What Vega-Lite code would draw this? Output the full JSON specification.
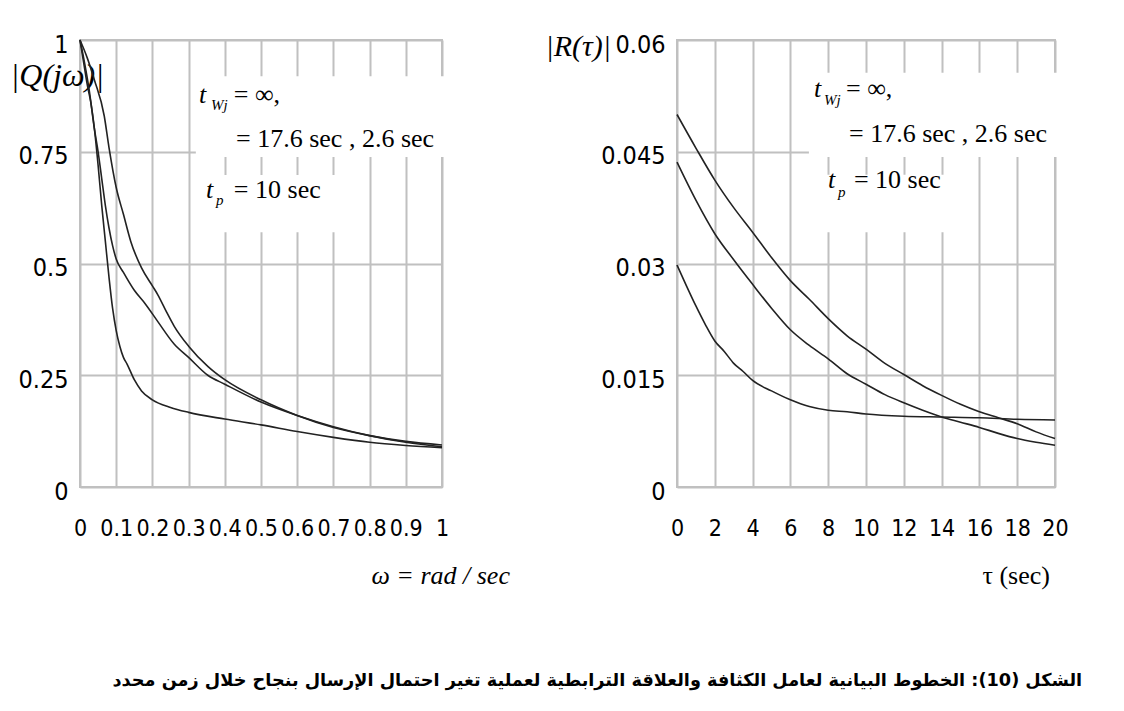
{
  "$schema": "https://vega.github.io/schema/vega-lite/v6.json",
  "background": "white",
  "padding": {"left": 9, "top": 30, "right": 5, "bottom": 5},
  "bounds": "flush",
  "spacing": 235,
  "config": {
    "view": {"stroke": "#c0c0c0", "strokeWidth": 2},
    "axis": {
      "grid": true, "gridColor": "#c0c0c0", "gridWidth": 2, "gridOpacity": 1,
      "domain": false, "ticks": false,
      "labelFont": "DejaVu Sans Condensed", "labelFontSize": 25, "labelColor": "#000",
      "labelOverlap": false, "labelFlush": false, "labelBound": false,
      "titleFont": "Liberation Serif", "titleFontWeight": "normal", "titleColor": "#000"
    },
    "axisX": {"labelFontSize": 23},
    "text": {"font": "Liberation Serif", "color": "#000", "align": "left", "baseline": "alphabetic"}
  },
  "title": {
    "text": "الشكل (10): الخطوط البيانية لعامل الكثافة والعلاقة الترابطية لعملية تغير احتمال الإرسال بنجاح خلال زمن محدد",
    "orient": "bottom", "anchor": "end", "font": "DejaVu Sans", "fontSize": 17.7, "fontWeight": "bold",
    "color": "#000", "offset": 83, "dx": 13
  },
  "datasets": {
    "q": [
      {"x": 0, "y": 1.0, "curve": "A"}, {"x": 0.01, "y": 0.95, "curve": "A"}, {"x": 0.02, "y": 0.9, "curve": "A"},
      {"x": 0.03, "y": 0.86, "curve": "A"}, {"x": 0.04, "y": 0.8, "curve": "A"}, {"x": 0.05, "y": 0.72, "curve": "A"},
      {"x": 0.06, "y": 0.63, "curve": "A"}, {"x": 0.07, "y": 0.55, "curve": "A"}, {"x": 0.08, "y": 0.47, "curve": "A"},
      {"x": 0.09, "y": 0.4, "curve": "A"}, {"x": 0.1, "y": 0.35, "curve": "A"}, {"x": 0.11, "y": 0.315, "curve": "A"},
      {"x": 0.12, "y": 0.29, "curve": "A"}, {"x": 0.13, "y": 0.275, "curve": "A"}, {"x": 0.15, "y": 0.24, "curve": "A"},
      {"x": 0.17, "y": 0.215, "curve": "A"}, {"x": 0.2, "y": 0.195, "curve": "A"}, {"x": 0.25, "y": 0.178, "curve": "A"},
      {"x": 0.3, "y": 0.167, "curve": "A"}, {"x": 0.4, "y": 0.152, "curve": "A"}, {"x": 0.5, "y": 0.139, "curve": "A"},
      {"x": 0.6, "y": 0.124, "curve": "A"}, {"x": 0.7, "y": 0.111, "curve": "A"}, {"x": 0.8, "y": 0.1, "curve": "A"},
      {"x": 0.9, "y": 0.093, "curve": "A"}, {"x": 1.0, "y": 0.088, "curve": "A"},
      {"x": 0, "y": 1.0, "curve": "B"}, {"x": 0.01, "y": 0.96, "curve": "B"}, {"x": 0.025, "y": 0.89, "curve": "B"},
      {"x": 0.04, "y": 0.8, "curve": "B"}, {"x": 0.05, "y": 0.75, "curve": "B"}, {"x": 0.06, "y": 0.69, "curve": "B"},
      {"x": 0.07, "y": 0.63, "curve": "B"}, {"x": 0.08, "y": 0.58, "curve": "B"}, {"x": 0.09, "y": 0.54, "curve": "B"},
      {"x": 0.1, "y": 0.51, "curve": "B"}, {"x": 0.12, "y": 0.48, "curve": "B"}, {"x": 0.15, "y": 0.44, "curve": "B"},
      {"x": 0.18, "y": 0.41, "curve": "B"}, {"x": 0.215, "y": 0.37, "curve": "B"}, {"x": 0.26, "y": 0.32, "curve": "B"},
      {"x": 0.3, "y": 0.29, "curve": "B"}, {"x": 0.353, "y": 0.25, "curve": "B"}, {"x": 0.4, "y": 0.23, "curve": "B"},
      {"x": 0.5, "y": 0.19, "curve": "B"}, {"x": 0.6, "y": 0.16, "curve": "B"}, {"x": 0.7, "y": 0.135, "curve": "B"},
      {"x": 0.8, "y": 0.115, "curve": "B"}, {"x": 0.9, "y": 0.1, "curve": "B"}, {"x": 1.0, "y": 0.09, "curve": "B"},
      {"x": 0, "y": 1.0, "curve": "C"}, {"x": 0.02, "y": 0.96, "curve": "C"}, {"x": 0.04, "y": 0.91, "curve": "C"},
      {"x": 0.067, "y": 0.83, "curve": "C"}, {"x": 0.08, "y": 0.76, "curve": "C"}, {"x": 0.1, "y": 0.67, "curve": "C"},
      {"x": 0.12, "y": 0.61, "curve": "C"}, {"x": 0.14, "y": 0.55, "curve": "C"}, {"x": 0.17, "y": 0.49, "curve": "C"},
      {"x": 0.2, "y": 0.45, "curve": "C"}, {"x": 0.215, "y": 0.43, "curve": "C"}, {"x": 0.24, "y": 0.39, "curve": "C"},
      {"x": 0.26, "y": 0.36, "curve": "C"}, {"x": 0.3, "y": 0.315, "curve": "C"}, {"x": 0.353, "y": 0.27, "curve": "C"},
      {"x": 0.4, "y": 0.24, "curve": "C"}, {"x": 0.5, "y": 0.195, "curve": "C"}, {"x": 0.6, "y": 0.16, "curve": "C"},
      {"x": 0.7, "y": 0.133, "curve": "C"}, {"x": 0.8, "y": 0.115, "curve": "C"}, {"x": 0.9, "y": 0.102, "curve": "C"},
      {"x": 1.0, "y": 0.094, "curve": "C"}
    ],
    "r": [
      {"x": 0, "y": 0.05, "curve": "A"}, {"x": 1, "y": 0.0455, "curve": "A"}, {"x": 2, "y": 0.0412, "curve": "A"},
      {"x": 3, "y": 0.0375, "curve": "A"}, {"x": 4, "y": 0.0342, "curve": "A"}, {"x": 5, "y": 0.0308, "curve": "A"},
      {"x": 6, "y": 0.0277, "curve": "A"}, {"x": 7, "y": 0.0252, "curve": "A"}, {"x": 8, "y": 0.0226, "curve": "A"},
      {"x": 9, "y": 0.0203, "curve": "A"}, {"x": 10, "y": 0.0185, "curve": "A"}, {"x": 11, "y": 0.0166, "curve": "A"},
      {"x": 12, "y": 0.0151, "curve": "A"}, {"x": 13, "y": 0.0136, "curve": "A"}, {"x": 14, "y": 0.0123, "curve": "A"},
      {"x": 15, "y": 0.0111, "curve": "A"}, {"x": 16, "y": 0.0101, "curve": "A"}, {"x": 17, "y": 0.0093, "curve": "A"},
      {"x": 18, "y": 0.0085, "curve": "A"}, {"x": 19, "y": 0.0074, "curve": "A"}, {"x": 20, "y": 0.0065, "curve": "A"},
      {"x": 0, "y": 0.0436, "curve": "B"}, {"x": 1, "y": 0.0385, "curve": "B"}, {"x": 2, "y": 0.034, "curve": "B"},
      {"x": 3, "y": 0.0305, "curve": "B"}, {"x": 4, "y": 0.0272, "curve": "B"}, {"x": 5, "y": 0.024, "curve": "B"},
      {"x": 6, "y": 0.0211, "curve": "B"}, {"x": 7, "y": 0.019, "curve": "B"}, {"x": 8, "y": 0.0172, "curve": "B"},
      {"x": 9, "y": 0.0152, "curve": "B"}, {"x": 10, "y": 0.0138, "curve": "B"}, {"x": 11, "y": 0.0124, "curve": "B"},
      {"x": 12, "y": 0.0113, "curve": "B"}, {"x": 13, "y": 0.0103, "curve": "B"}, {"x": 14, "y": 0.0094, "curve": "B"},
      {"x": 15, "y": 0.0087, "curve": "B"}, {"x": 16, "y": 0.008, "curve": "B"}, {"x": 17, "y": 0.0072, "curve": "B"},
      {"x": 18, "y": 0.0065, "curve": "B"}, {"x": 19, "y": 0.006, "curve": "B"}, {"x": 20, "y": 0.0056, "curve": "B"},
      {"x": 0, "y": 0.0298, "curve": "C"}, {"x": 0.5, "y": 0.027, "curve": "C"}, {"x": 1, "y": 0.0243, "curve": "C"},
      {"x": 1.5, "y": 0.0218, "curve": "C"}, {"x": 2, "y": 0.0196, "curve": "C"}, {"x": 2.5, "y": 0.0182, "curve": "C"},
      {"x": 3, "y": 0.0166, "curve": "C"}, {"x": 3.5, "y": 0.0155, "curve": "C"}, {"x": 4, "y": 0.0143, "curve": "C"},
      {"x": 5, "y": 0.0129, "curve": "C"}, {"x": 6, "y": 0.0117, "curve": "C"}, {"x": 7, "y": 0.0108, "curve": "C"},
      {"x": 8, "y": 0.0103, "curve": "C"}, {"x": 9, "y": 0.0101, "curve": "C"}, {"x": 10, "y": 0.0098, "curve": "C"},
      {"x": 12, "y": 0.0095, "curve": "C"}, {"x": 14, "y": 0.0094, "curve": "C"}, {"x": 16, "y": 0.0093, "curve": "C"},
      {"x": 18, "y": 0.0091, "curve": "C"}, {"x": 20, "y": 0.009, "curve": "C"}
    ]
  },
  "hconcat": [
    {
      "width": 362, "height": 447,
      "encoding": {
        "x": {"field": "x", "type": "quantitative", "scale": {"domain": [0, 1], "nice": false},
          "axis": {"values": [0, 0.1, 0.2, 0.3, 0.4, 0.5, 0.6, 0.7, 0.8, 0.9, 1], "labelExpr": "'' + datum.value", "labelPadding": 30,
            "title": "ω = rad / sec", "titleX": 291, "titleY": 96, "titleAlign": "left", "titleBaseline": "alphabetic",
            "titleFontSize": 26, "titleFontStyle": "italic"}},
        "y": {"field": "y", "type": "quantitative", "scale": {"domain": [0, 1], "nice": false},
          "axis": {"values": [0, 0.25, 0.5, 0.75, 1], "labelExpr": "'' + datum.value", "labelPadding": 12, "labelOffset": 4,
            "title": "|Q(jω)|", "titleAngle": 0, "titleX": -70, "titleY": 45, "titleAlign": "left", "titleBaseline": "alphabetic",
            "titleFontSize": 32, "titleFontStyle": "italic"}}
      },
      "layer": [
        {
          "data": {"name": "q"},
          "mark": {"type": "line", "color": "#222", "strokeWidth": 1.6, "interpolate": "monotone"},
          "encoding": {"detail": {"field": "curve"}}
        },
        {
          "data": {"values": [
            {"x": 0.32, "x2": 1.012, "y": 0.919, "y2": 0.738},
            {"x": 0.32, "x2": 0.743, "y": 0.698, "y2": 0.57}
          ]},
          "mark": {"type": "rect", "color": "white"},
          "encoding": {"x2": {"field": "x2"}, "y2": {"field": "y2"}}
        },
        {
          "data": {"values": [
            {"x": 0.425, "y": 0.859, "t": "= ∞,"},
            {"x": 0.431, "y": 0.761, "t": "= 17.6 sec , 2.6 sec"},
            {"x": 0.425, "y": 0.647, "t": "= 10 sec"}
          ]},
          "mark": {"type": "text", "fontSize": 26},
          "encoding": {"text": {"field": "t"}}
        },
        {
          "data": {"values": [
            {"x": 0.329, "y": 0.859, "t": "t"},
            {"x": 0.348, "y": 0.647, "t": "t"}
          ]},
          "mark": {"type": "text", "fontSize": 26, "fontStyle": "italic"},
          "encoding": {"text": {"field": "t"}}
        },
        {
          "data": {"values": [
            {"x": 0.362, "y": 0.843, "t": "Wj"},
            {"x": 0.376, "y": 0.631, "t": "p"}
          ]},
          "mark": {"type": "text", "fontSize": 15, "fontStyle": "italic"},
          "encoding": {"text": {"field": "t"}}
        }
      ]
    },
    {
      "width": 378, "height": 447,
      "encoding": {
        "x": {"field": "x", "type": "quantitative", "scale": {"domain": [0, 20], "nice": false},
          "axis": {"values": [0, 2, 4, 6, 8, 10, 12, 14, 16, 18, 20], "labelExpr": "'' + datum.value", "labelPadding": 30,
            "title": "τ (sec)", "titleX": 305, "titleY": 96, "titleAlign": "left", "titleBaseline": "alphabetic",
            "titleFontSize": 26}},
        "y": {"field": "y", "type": "quantitative", "scale": {"domain": [0, 0.06], "nice": false},
          "axis": {"values": [0, 0.015, 0.03, 0.045, 0.06], "labelExpr": "'' + datum.value", "labelPadding": 12, "labelOffset": 4,
            "title": "|R(τ)|", "titleAngle": 0, "titleX": -132, "titleY": 15, "titleAlign": "left", "titleBaseline": "alphabetic",
            "titleFontSize": 30, "titleFontStyle": "italic"}}
      },
      "layer": [
        {
          "data": {"name": "r"},
          "mark": {"type": "line", "color": "#222", "strokeWidth": 1.6, "interpolate": "monotone"},
          "encoding": {"detail": {"field": "curve"}}
        },
        {
          "data": {"values": [
            {"x": 6.98, "x2": 20.3, "y": 0.0556, "y2": 0.0443},
            {"x": 6.98, "x2": 15.0, "y": 0.0419, "y2": 0.0342}
          ]},
          "mark": {"type": "rect", "color": "white"},
          "encoding": {"x2": {"field": "x2"}, "y2": {"field": "y2"}}
        },
        {
          "data": {"values": [
            {"x": 8.94, "y": 0.05235, "t": "= ∞,"},
            {"x": 9.1, "y": 0.04631, "t": "= 17.6 sec , 2.6 sec"},
            {"x": 9.36, "y": 0.04013, "t": "= 10 sec"}
          ]},
          "mark": {"type": "text", "fontSize": 26},
          "encoding": {"text": {"field": "t"}}
        },
        {
          "data": {"values": [
            {"x": 7.25, "y": 0.05235, "t": "t"},
            {"x": 7.99, "y": 0.04013, "t": "t"}
          ]},
          "mark": {"type": "text", "fontSize": 26, "fontStyle": "italic"},
          "encoding": {"text": {"field": "t"}}
        },
        {
          "data": {"values": [
            {"x": 7.78, "y": 0.05128, "t": "Wj"},
            {"x": 8.52, "y": 0.03893, "t": "p"}
          ]},
          "mark": {"type": "text", "fontSize": 15, "fontStyle": "italic"},
          "encoding": {"text": {"field": "t"}}
        }
      ]
    }
  ]
}
